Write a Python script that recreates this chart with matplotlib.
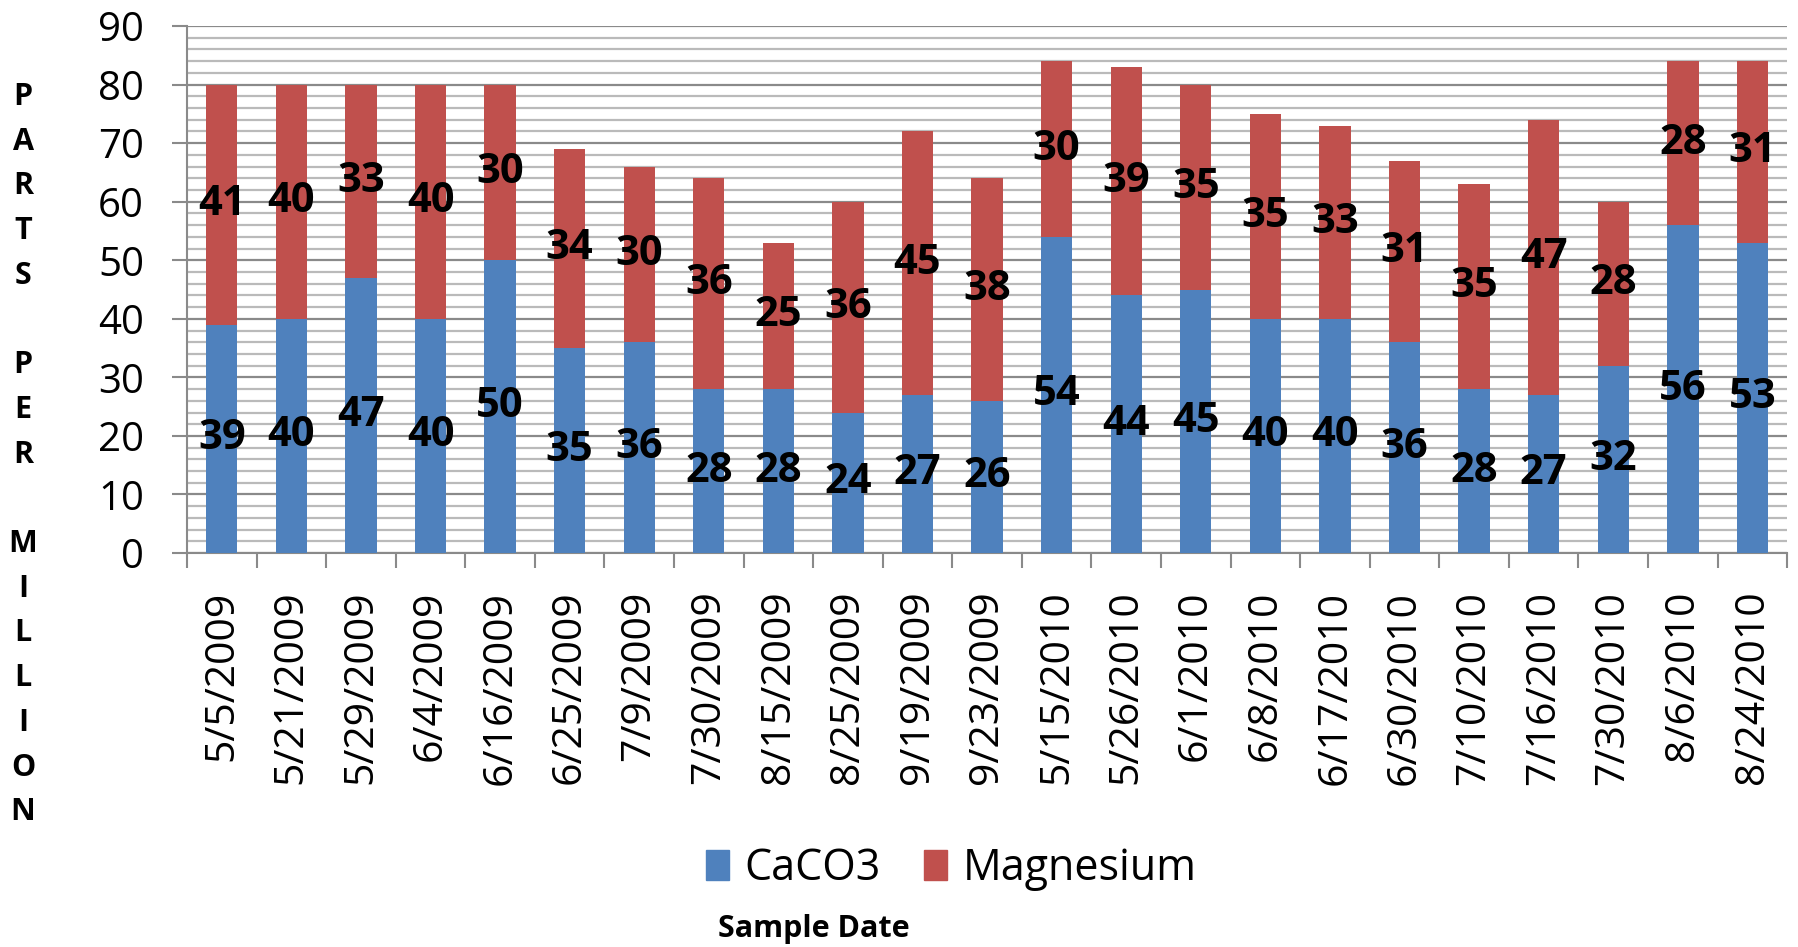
import matplotlib
matplotlib.use("Agg")
import matplotlib.pyplot as plt
from matplotlib.ticker import MultipleLocator, FixedLocator
from matplotlib.patches import Patch

plt.rcParams['font.family'] = ['Open Sans', 'DejaVu Sans']

dates = ["5/5/2009", "5/21/2009", "5/29/2009", "6/4/2009", "6/16/2009", "6/25/2009",
         "7/9/2009", "7/30/2009", "8/15/2009", "8/25/2009", "9/19/2009", "9/23/2009",
         "5/15/2010", "5/26/2010", "6/1/2010", "6/8/2010", "6/17/2010", "6/30/2010",
         "7/10/2010", "7/16/2010", "7/30/2010", "8/6/2010", "8/24/2010"]
caco3 = [39, 40, 47, 40, 50, 35, 36, 28, 28, 24, 27, 26, 54, 44, 45, 40, 40, 36, 28, 27, 32, 56, 53]
magnesium = [41, 40, 33, 40, 30, 34, 30, 36, 25, 36, 45, 38, 30, 39, 35, 35, 33, 31, 35, 47, 28, 28, 31]

blue = "#4F81BD"
red = "#C0504D"

fig = plt.figure(figsize=(17.98, 9.47), dpi=100)
ax = fig.add_axes([0.104, 0.416, 0.890, 0.5565])

x = list(range(len(dates)))
w = 0.45
ax.bar(x, caco3, width=w, color=blue, zorder=3)
ax.bar(x, magnesium, width=w, bottom=caco3, color=red, zorder=3)

for i in x:
    ax.text(i, caco3[i] / 2, str(caco3[i]), ha="center", va="center",
            fontsize=30, fontweight="bold", zorder=4)
    ax.text(i, caco3[i] + magnesium[i] / 2, str(magnesium[i]), ha="center", va="center",
            fontsize=30, fontweight="bold", zorder=4)

ax.set_xlim(-0.5, len(dates) - 0.5)
ax.set_ylim(0, 90)
ax.yaxis.set_major_locator(MultipleLocator(10))
ax.yaxis.set_minor_locator(MultipleLocator(2))
ax.grid(axis="y", which="major", color="#8a8a8a", linewidth=1.6, zorder=0)
ax.grid(axis="y", which="minor", color="#bababa", linewidth=1.6, zorder=0)
ax.set_axisbelow(True)

ax.set_xticks(x)
ax.set_xticklabels(dates, rotation=90, fontsize=29.5)
ax.tick_params(axis="x", which="major", length=0, pad=27)
ax.xaxis.set_minor_locator(FixedLocator([i - 0.5 for i in range(len(dates) + 1)]))
ax.tick_params(axis="x", which="minor", length=11, width=1.5, color="#8a8a8a", direction="out")
ax.tick_params(axis="y", which="major", labelsize=29, length=11, width=1.5,
               color="#8a8a8a", pad=20)
ax.tick_params(axis="y", which="minor", length=0)

for s in ("top", "right"):
    ax.spines[s].set_visible(False)
for s in ("left", "bottom"):
    ax.spines[s].set_color("#8a8a8a")
    ax.spines[s].set_linewidth(1.5)

# vertical stacked y-axis title
letters = "PARTS PER MILLION"
y0 = 1 - 97 / 947
step = 44.7 / 947
for k, ch in enumerate(letters):
    if ch != " ":
        fig.text(0.0128, y0 - k * step, ch, ha="center", va="center",
                 fontsize=22, fontweight="bold")

fig.legend(handles=[Patch(color=blue, label="CaCO3"), Patch(color=red, label="Magnesium")],
           loc="center", bbox_to_anchor=(0.529, 1 - 869 / 947), ncol=2, frameon=False,
           fontsize=31, handlelength=0.55, handleheight=0.7, handletextpad=0.35,
           columnspacing=1.0)

fig.text(0.4527, 1 - 929 / 947, "Sample Date", ha="center", va="center",
         fontsize=22, fontweight="bold")

fig.savefig("out.png", dpi=100)
